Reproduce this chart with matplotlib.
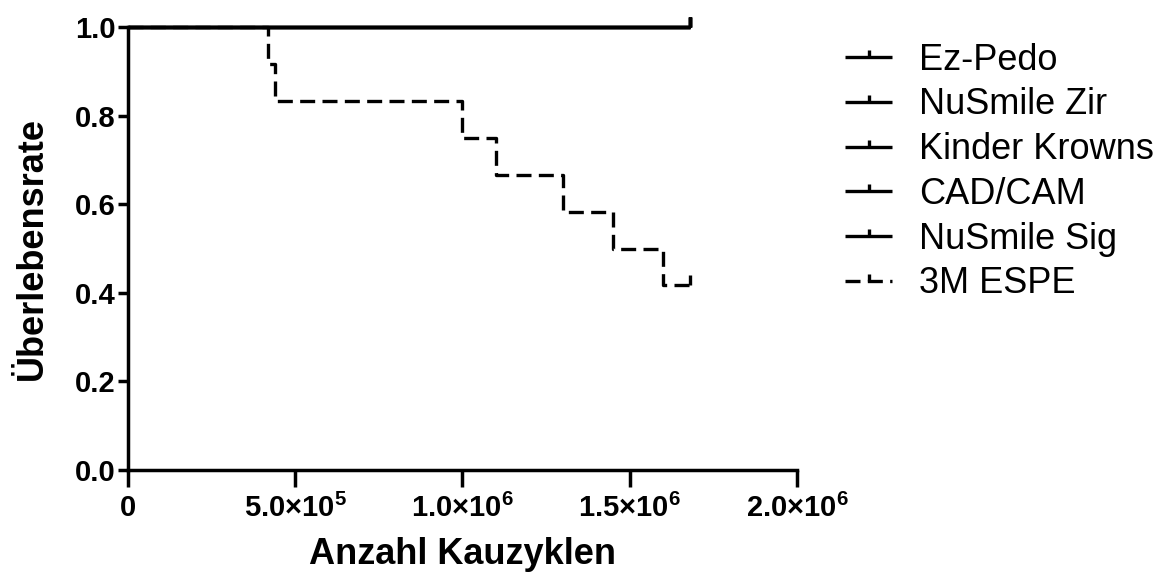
import matplotlib
matplotlib.use("Agg")
import matplotlib.pyplot as plt
from matplotlib.path import Path

plt.rcParams['font.family'] = ['Liberation Sans', 'DejaVu Sans']
plt.rcParams['mathtext.fontset'] = 'custom'
plt.rcParams['mathtext.rm'] = 'Liberation Sans:bold'
plt.rcParams['mathtext.bf'] = 'Liberation Sans:bold'
plt.rcParams['mathtext.it'] = 'Liberation Sans:bold'

# Data
solid_series = ["Ez-Pedo", "NuSmile Zir", "Kinder Krowns", "CAD/CAM", "NuSmile Sig"]
solid_times = [0, 1.68e6]
solid_surv = [1.0, 1.0]
espe_name = "3M ESPE"
espe_times = [0, 4.2e5, 4.4e5, 1.0e6, 1.1e6, 1.3e6, 1.45e6, 1.6e6, 1.68e6]
espe_surv = [1.0, 11/12, 10/12, 9/12, 8/12, 7/12, 6/12, 5/12, 5/12]

xticks = [0, 5e5, 1e6, 1.5e6, 2e6]
xticklabels = ["0", r"$5.0{\times}10^{5}$", r"$1.0{\times}10^{6}$",
               r"$1.5{\times}10^{6}$", r"$2.0{\times}10^{6}$"]
yticks = [0.0, 0.2, 0.4, 0.6, 0.8, 1.0]
yticklabels = ["0.0", "0.2", "0.4", "0.6", "0.8", "1.0"]

censor_marker = Path([(0, 0), (0, 1)], [Path.MOVETO, Path.LINETO])

fig = plt.figure(figsize=(11.62, 5.76), dpi=100)
ax = fig.add_axes([0.110, 0.184, 0.576, 0.769])

lw = 2.4
for name in solid_series:
    ax.step(solid_times, solid_surv, where='post', color='black', lw=lw,
            label=name, marker=censor_marker, markevery=[len(solid_times) - 1],
            markersize=14, markeredgewidth=lw, solid_capstyle='butt')

ax.step(espe_times, espe_surv, where='post', color='black', lw=lw,
        ls=(0, (4.5, 2.2)), label=espe_name, marker=censor_marker,
        markevery=[len(espe_times) - 1], markersize=14, markeredgewidth=lw)

ax.set_xlim(0, 2e6)
ax.set_ylim(0, 1.0)
ax.set_xticks(xticks)
ax.set_xticklabels(xticklabels)
ax.set_yticks(yticks)
ax.set_yticklabels(yticklabels)
for lab in ax.get_yticklabels() + ax.get_xticklabels():
    lab.set_fontweight('bold')
ax.tick_params(axis='x', labelsize=21, length=12, width=2.5, direction='out', pad=5)
ax.tick_params(axis='y', labelsize=21, length=7, width=2.5, direction='out', pad=2)

for s in ['top', 'right']:
    ax.spines[s].set_visible(False)
for s in ['left', 'bottom']:
    ax.spines[s].set_linewidth(2.5)

ax.set_xlabel("Anzahl Kauzyklen", fontsize=26, fontweight='bold', labelpad=10)
ax.set_ylabel("Überlebensrate", fontsize=26, fontweight='bold', labelpad=18)

leg = fig.legend(loc='upper left', bbox_to_anchor=(0.715, 0.951), frameon=False,
                 fontsize=26, handlelength=1.3, handletextpad=0.75,
                 labelspacing=0.27, borderaxespad=0)
for h in leg.legend_handles:
    h.set_markersize(10)

for line in ax.get_lines():
    line.set_clip_on(False)

fig.savefig("out.png", dpi=100)
